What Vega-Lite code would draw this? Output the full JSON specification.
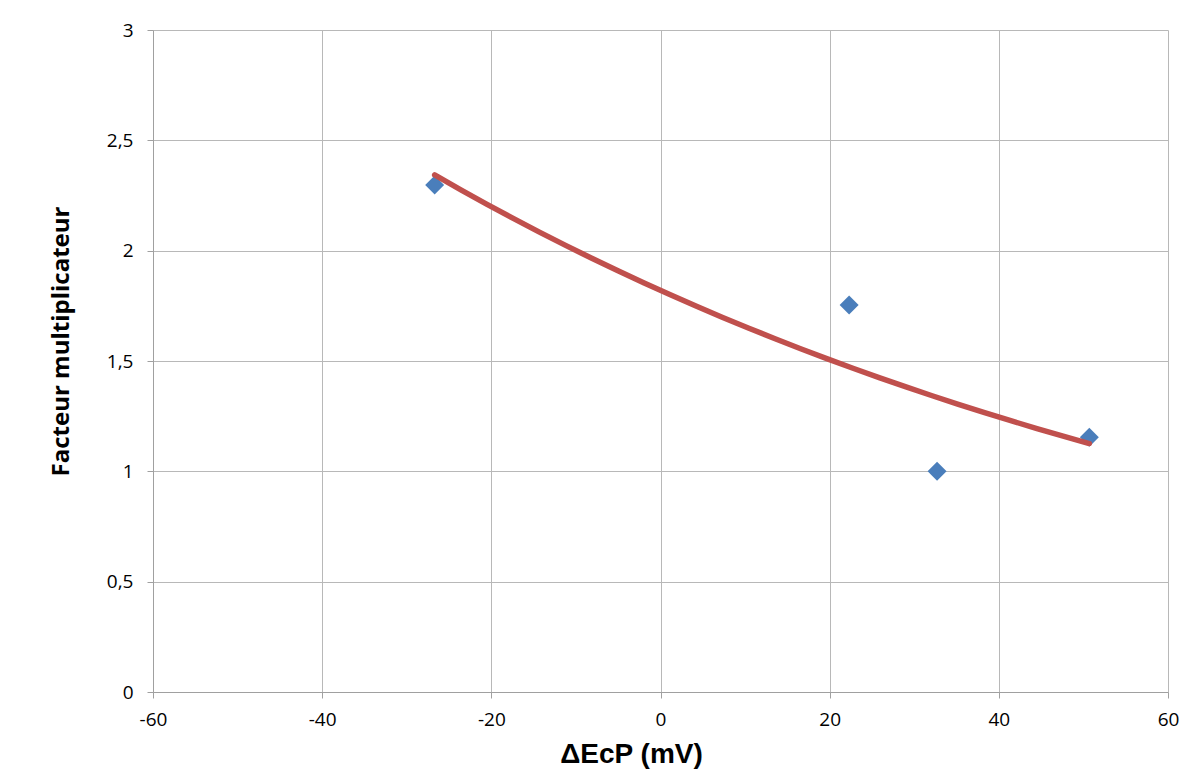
{
  "$schema": "https://vega.github.io/schema/vega-lite/v6.json",
  "width": 1015,
  "height": 662,
  "autosize": {"type": "none"},
  "padding": {"left": 153, "top": 30, "right": 13, "bottom": 86},
  "background": "white",
  "config": {"view": {"stroke": null}},
  "data": {
    "values": [
      {"x": -26.7, "y": 2.298},
      {"x": 22.3, "y": 1.754},
      {"x": 32.7, "y": 1.0},
      {"x": 50.7, "y": 1.154}
    ]
  },
  "encoding": {
    "x": {
      "field": "x",
      "type": "quantitative",
      "scale": {"domain": [-60, 60], "nice": false, "zero": false},
      "axis": {
        "title": "ΔEcP (mV)",
        "values": [-60, -40, -20, 0, 20, 40, 60],
        "labelExpr": "datum.value < 0 ? '-' + abs(datum.value) : '' + datum.value",
        "grid": true,
        "gridColor": "#b8b8b8",
        "gridWidth": 1,
        "domainColor": "#a0a0a0",
        "tickColor": "#a0a0a0",
        "tickSize": 6,
        "labelFont": "Open Sans",
        "labelFontSize": 19,
        "labelColor": "#000000",
        "labelPadding": 12,
        "labelFlush": false,
        "titleFont": "Liberation Sans",
        "titleFontSize": 28,
        "titleFontWeight": "bold",
        "titleColor": "#000000",
        "titleX": 478,
        "titleY": 70,
        "titleBaseline": "alphabetic"
      }
    },
    "y": {
      "field": "y",
      "type": "quantitative",
      "scale": {"domain": [0, 3], "nice": false},
      "axis": {
        "title": "Facteur multiplicateur",
        "values": [0, 0.5, 1, 1.5, 2, 2.5, 3],
        "labelExpr": "replace('' + datum.value, '.', ',')",
        "grid": true,
        "gridColor": "#b8b8b8",
        "gridWidth": 1,
        "domainColor": "#a0a0a0",
        "tickColor": "#a0a0a0",
        "tickSize": 6,
        "labelFont": "Open Sans",
        "labelFontSize": 19,
        "labelColor": "#000000",
        "labelPadding": 14,
        "labelFlush": false,
        "titleFont": "Open Sans",
        "titleFontSize": 24,
        "titleFontWeight": "bold",
        "titleColor": "#000000",
        "titleX": -80,
        "titleY": 311,
        "titleBaseline": "bottom",
        "titleAngle": 270
      }
    }
  },
  "layer": [
    {
      "mark": {"type": "point", "shape": "diamond", "filled": true, "size": 360, "color": "#4A7EBB", "opacity": 1}
    },
    {
      "transform": [{"regression": "y", "on": "x", "method": "exp"}],
      "mark": {"type": "line", "color": "#C0504D", "strokeWidth": 5.5, "strokeCap": "round"}
    }
  ]
}
